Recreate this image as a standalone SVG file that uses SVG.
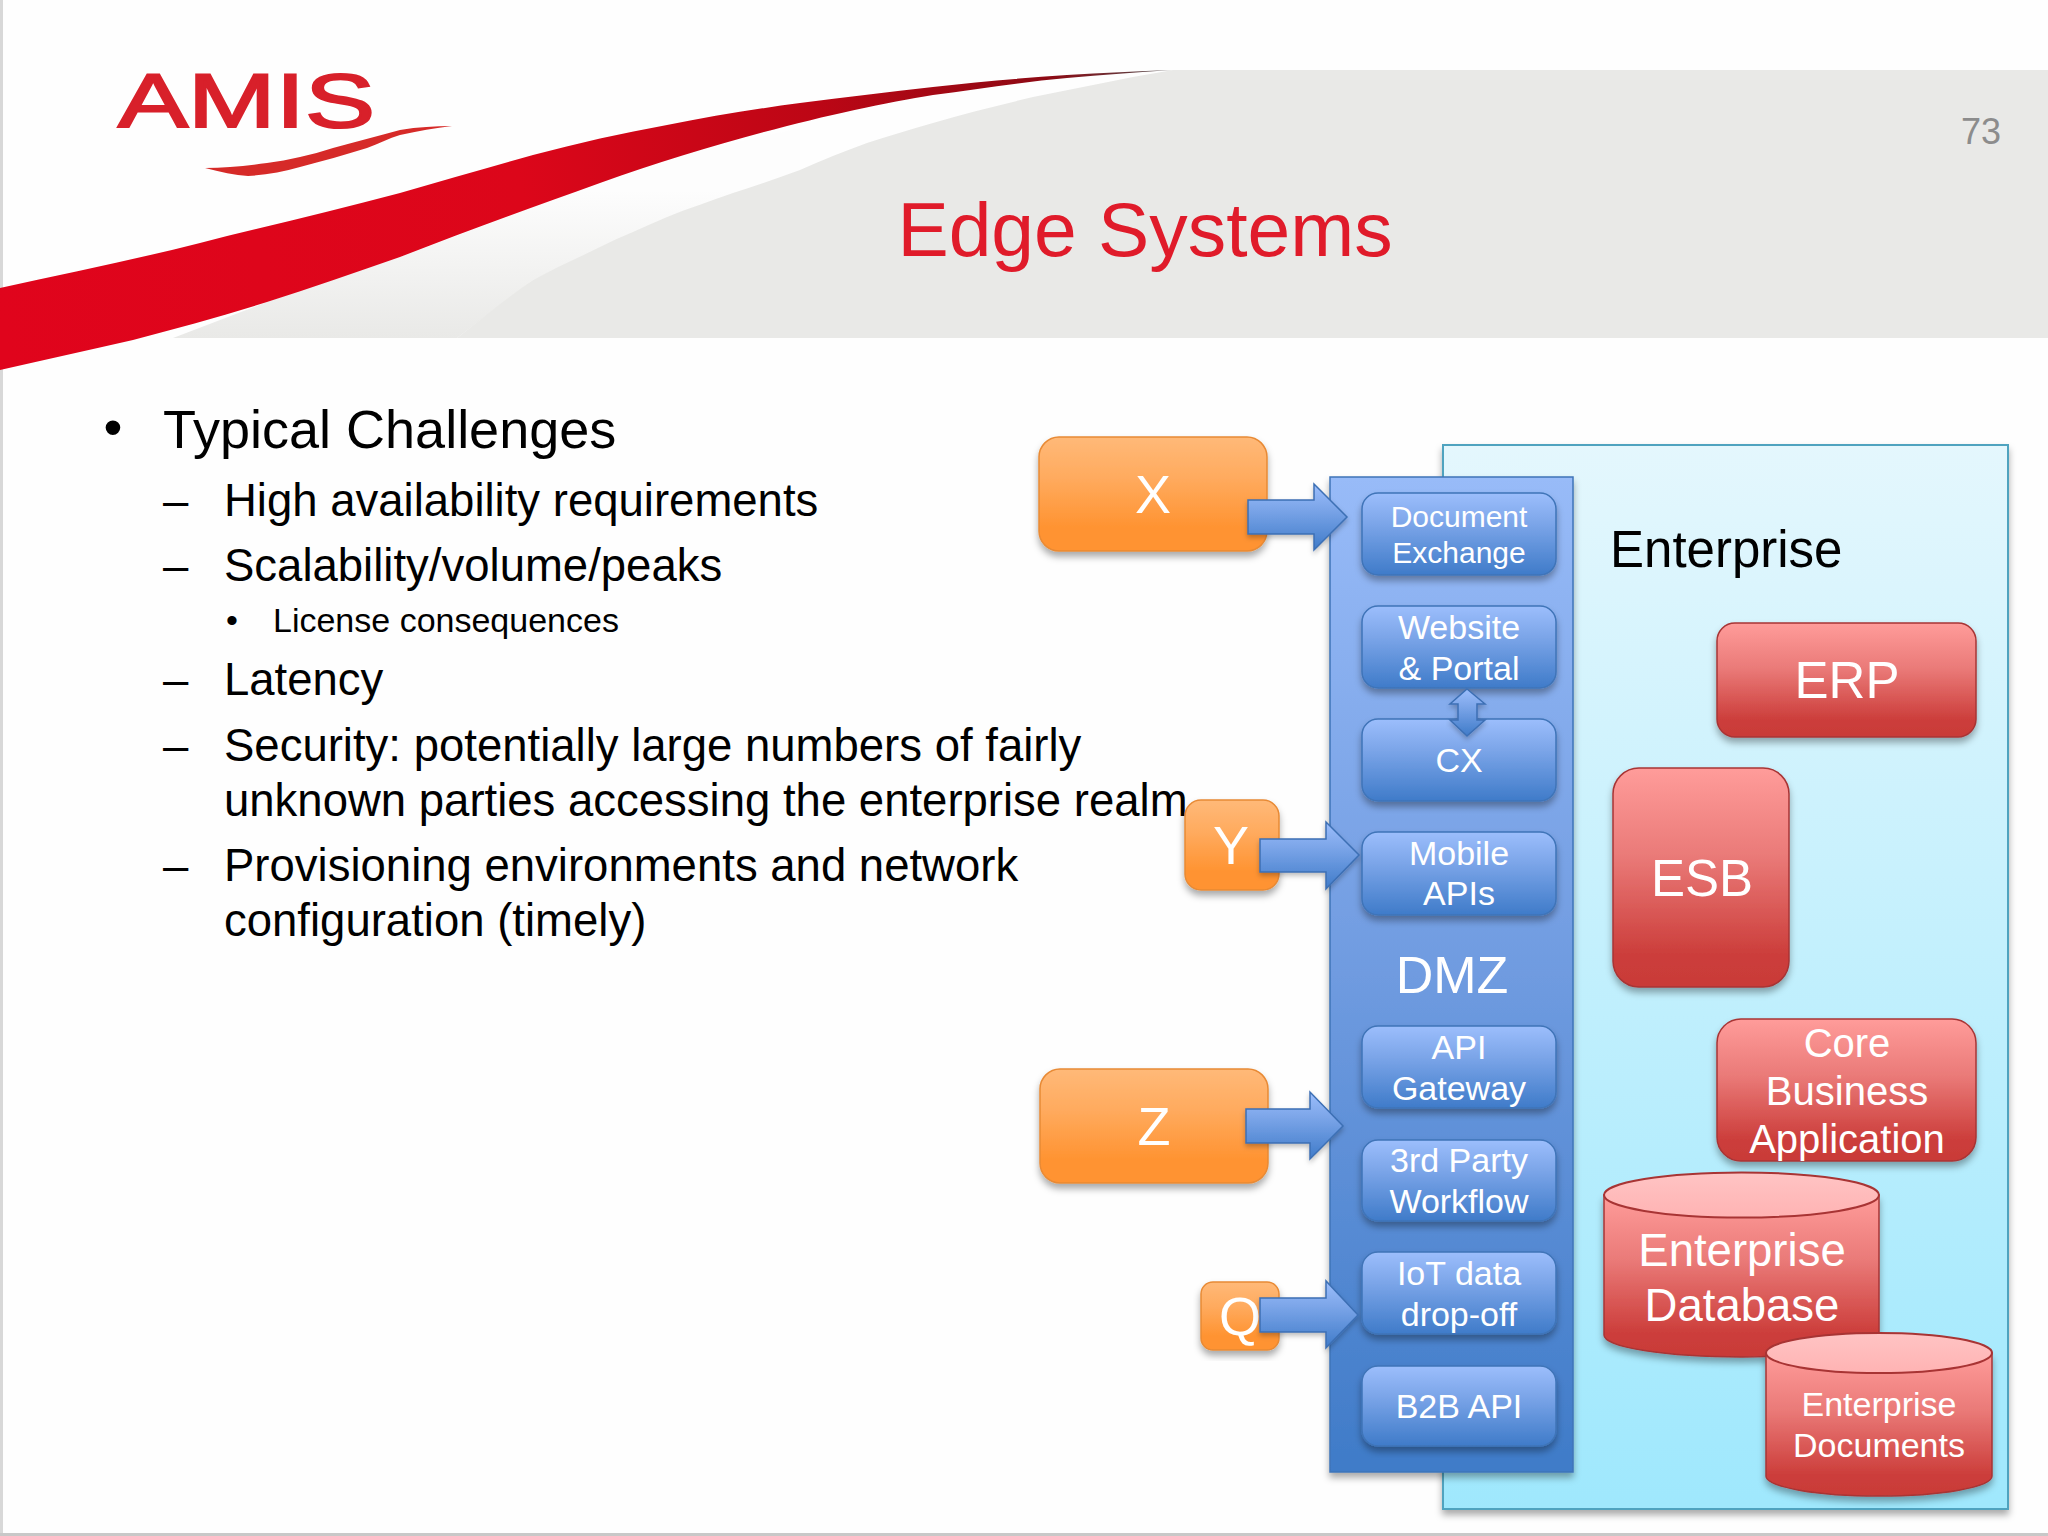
<svg xmlns="http://www.w3.org/2000/svg" width="2048" height="1536" viewBox="0 0 2048 1536">
<style>
text{font-family:"Liberation Sans",Arial,sans-serif}
.k{fill:#000}
.w{fill:#fff;text-anchor:middle}
.s{fill:url(#gBlue);stroke:#3f74b8;stroke-width:1.5;filter:url(#sh)}
.o{fill:url(#gOrange);stroke:#e88a35;stroke-width:1.5;filter:url(#sh)}
.r{fill:url(#gRed);stroke:#a83434;stroke-width:1.5;filter:url(#sh)}
.t{fill:url(#gTop);stroke:#a83434;stroke-width:2}
.a{fill:url(#gBlue);stroke:#3c6fb4;stroke-width:1.5;filter:url(#shA)}
.f30{font-size:30px}.f34{font-size:34px}.f54{font-size:54px}
.m{font-size:45.500px}
</style>
<defs>
<linearGradient id="gBlue" x1="0" y1="0" x2="0" y2="1"><stop offset="0" stop-color="#9cbefc"/><stop offset=".35" stop-color="#7ea7ea"/><stop offset="1" stop-color="#3f7bc9"/></linearGradient>
<linearGradient id="gDmz" x1="0" y1="0" x2="0" y2="1"><stop offset="0" stop-color="#98bbf8"/><stop offset=".5" stop-color="#6f9be0"/><stop offset="1" stop-color="#3f7bc8"/></linearGradient>
<linearGradient id="gOrange" x1="0" y1="0" x2="0" y2="1"><stop offset="0" stop-color="#ffb978"/><stop offset=".35" stop-color="#ffab5f"/><stop offset=".8" stop-color="#ff9331"/><stop offset="1" stop-color="#ff9330"/></linearGradient>
<linearGradient id="gRed" x1="0" y1="0" x2="0" y2="1"><stop offset="0" stop-color="#ff9c9a"/><stop offset=".4" stop-color="#ea7a78"/><stop offset=".85" stop-color="#cc3e3b"/><stop offset="1" stop-color="#c93a38"/></linearGradient>
<linearGradient id="gTop" x1="0" y1="0" x2="0" y2="1"><stop offset="0" stop-color="#ffc4c4"/><stop offset="1" stop-color="#ffb3b3"/></linearGradient>
<linearGradient id="gEnt" x1="0" y1="0" x2="0" y2="1"><stop offset="0" stop-color="#e4f7fd"/><stop offset="1" stop-color="#9fe8fd"/></linearGradient>
<linearGradient id="gSw" gradientUnits="userSpaceOnUse" x1="0" y1="330" x2="1172" y2="70"><stop offset="0" stop-color="#e0041c"/><stop offset=".45" stop-color="#dc061a"/><stop offset=".7" stop-color="#bd0615"/><stop offset=".9" stop-color="#8c0a14"/><stop offset="1" stop-color="#505050"/></linearGradient>
<linearGradient id="gFade" gradientUnits="userSpaceOnUse" x1="0" y1="338" x2="0" y2="190"><stop offset="0" stop-color="#e9e9e7"/><stop offset="1" stop-color="#fdfdfd"/></linearGradient>
<filter id="sh" x="-10%" y="-10%" width="120%" height="125%"><feDropShadow dx="0" dy="5" stdDeviation="3.500" flood-color="#000" flood-opacity=".33"/></filter>
<filter id="shA" x="-10%" y="-10%" width="120%" height="125%"><feDropShadow dx="0" dy="3" stdDeviation="2.500" flood-color="#000" flood-opacity=".25"/></filter>
</defs>
<rect width="2048" height="1536" fill="#fefefe"/>
<rect x="0" y="0" width="3" height="1536" fill="#d8d8d8"/>
<rect x="0" y="1533" width="2048" height="3" fill="#c8c8c8"/>

<g id="header">
<path d="M173 338L267 302L400 257L533 207L667 158L800 128L800 170L667 217L533 280L457 338Z" fill="url(#gFade)"/>
<path d="M1173 70H2048V338H457C483 318 508 297 533 280C555 268 578 258 600 247C622 236 645 227 667 217C689 208 711 201 733 193C755 186 778 178 800 170C822 160 845 151 867 143C889 136 911 129 933 123C966 113 1000 105 1033 97C1066 90 1100 84 1133 77C1146 75 1160 72 1173 70Z" fill="#e9e9e7"/>
<path id="swoosh" d="M0 288C67 273 133 260 200 243C267 226 333 211 400 193C445 180 490 167 533 155C578 143 622 133 667 125C712 116 755 109 800 103C845 97 889 92 933 87C978 82 1022 78 1067 75C1102 73 1137 71 1172 70C1137 72 1102 75 1067 78C1022 82 978 89 933 95C850 108 720 140 600 183C530 208 465 232 400 257C356 272 311 288 267 302C222 316 178 328 133 340C89 350 44 360 0 370Z" fill="url(#gSw)"/>
<text x="118" y="127" font-size="76" textLength="257" lengthAdjust="spacingAndGlyphs" fill="#d8202a" stroke="#d8202a" stroke-width="2">AMIS</text>
<path d="M452 126C435 126 418 127 400 130C378 136 355 142 333 148C311 155 289 160 267 163C245 166 225 168 205 168C220 172 235 175 248 176C265 175 283 172 300 167C322 161 345 155 367 148C378 144 389 138 400 135C418 131 435 128 452 126Z" fill="#d62a28"/>
<text x="1981" y="144" font-size="36" fill="#8c8c8c" text-anchor="middle">73</text>
<text x="1145" y="256" font-size="76.800" fill="#e01b2a" text-anchor="middle">Edge Systems</text>
</g>

<g id="bullets">
<text x="113" y="446" class="f54 k" text-anchor="middle">•</text>
<text x="163" y="448" class="f54 k">Typical Challenges</text>
<text x="163" y="516" class="m k">–</text><text x="224" y="516" class="m k">High availability requirements</text>
<text x="163" y="581" class="m k">–</text><text x="224" y="581" class="m k">Scalability/volume/peaks</text>
<text x="226" y="632" font-size="34" class="k">•</text><text x="273" y="632" font-size="34" class="k">License consequences</text>
<text x="163" y="695" class="m k">–</text><text x="224" y="695" class="m k">Latency</text>
<text x="163" y="761" class="m k">–</text><text x="224" y="761" class="m k">Security: potentially large numbers of fairly</text>
<text x="224" y="816" class="m k">unknown parties accessing the enterprise realm</text>
<text x="163" y="881" class="m k">–</text><text x="224" y="881" class="m k">Provisioning environments and network</text>
<text x="224" y="936" class="m k">configuration (timely)</text>
</g>

<g id="enterprise">
<rect x="1443" y="445" width="565" height="1064" fill="url(#gEnt)" stroke="#4fa3bf" stroke-width="2" filter="url(#sh)"/>
<text x="1610" y="567" font-size="51" class="k">Enterprise</text>
</g>
<g id="dmz">
<rect x="1330" y="477" width="243" height="995" fill="url(#gDmz)" stroke="#3f74b8" stroke-width="1.500" filter="url(#sh)"/>
<text x="1452" y="993" font-size="52" class="w">DMZ</text>
</g>

<g id="document-exchange"><rect class="s" x="1362" y="493" width="194" height="82" rx="16"/><text x="1459" y="527" class="f30 w">Document</text><text x="1459" y="563" class="f30 w">Exchange</text></g>
<g id="website-portal"><rect class="s" x="1362" y="606" width="194" height="82" rx="16"/><text x="1459" y="639" class="f34 w">Website</text><text x="1459" y="680" class="f34 w">&amp; Portal</text></g>
<g id="cx"><rect class="s" x="1362" y="719" width="194" height="82" rx="16"/><text x="1459" y="772" class="f34 w">CX</text></g>
<g id="mobile-apis"><rect class="s" x="1362" y="832" width="194" height="83" rx="16"/><text x="1459" y="865" class="f34 w">Mobile</text><text x="1459" y="905" class="f34 w">APIs</text></g>
<g id="api-gateway"><rect class="s" x="1362" y="1026" width="194" height="82" rx="16"/><text x="1459" y="1059" class="f34 w">API</text><text x="1459" y="1100" class="f34 w">Gateway</text></g>
<g id="third-party"><rect class="s" x="1362" y="1140" width="194" height="81" rx="16"/><text x="1459" y="1172" class="f34 w">3rd Party</text><text x="1459" y="1213" class="f34 w">Workflow</text></g>
<g id="iot"><rect class="s" x="1362" y="1252" width="194" height="82" rx="16"/><text x="1459" y="1285" class="f34 w">IoT data</text><text x="1459" y="1326" class="f34 w">drop-off</text></g>
<g id="b2b"><rect class="s" x="1362" y="1366" width="194" height="80" rx="16"/><text x="1459" y="1418" class="f34 w">B2B API</text></g>

<g id="x"><rect class="o" x="1039" y="437" width="228" height="114" rx="20"/><text x="1153" y="513" class="f54 w">X</text></g>
<g id="y"><rect class="o" x="1185" y="800" width="94" height="90" rx="16"/><text x="1231" y="864" class="f54 w">Y</text></g>
<g id="z"><rect class="o" x="1040" y="1069" width="228" height="114" rx="20"/><text x="1154" y="1145" class="f54 w">Z</text></g>
<g id="q"><rect class="o" x="1201" y="1282" width="78" height="68" rx="12"/><text x="1240" y="1335" class="f54 w">Q</text></g>

<g id="erp"><rect class="r" x="1717" y="623" width="259" height="114" rx="18"/><text x="1847" y="698" font-size="51" class="w">ERP</text></g>
<g id="esb"><rect class="r" x="1613" y="768" width="176" height="219" rx="26"/><text x="1702" y="896" font-size="51" class="w">ESB</text></g>
<g id="core"><rect class="r" x="1717" y="1019" width="259" height="142" rx="24"/><text x="1847" y="1057" font-size="40" class="w">Core</text><text x="1847" y="1105" font-size="40" class="w">Business</text><text x="1847" y="1153" font-size="40" class="w">Application</text></g>
<g id="enterprise-database">
<path class="r" d="M1604 1195V1335A137.500 22 0 0 0 1879 1335V1195Z"/>
<ellipse class="t" cx="1741.500" cy="1195" rx="137.500" ry="22.500"/>
<text x="1742" y="1266" font-size="45.500" class="w">Enterprise</text><text x="1742" y="1321" font-size="45.500" class="w">Database</text>
</g>
<g id="enterprise-documents">
<path class="r" d="M1766 1353V1476A113 20 0 0 0 1992 1476V1353Z"/>
<ellipse class="t" cx="1879" cy="1353" rx="113" ry="20"/>
<text x="1879" y="1416" class="f34 w">Enterprise</text><text x="1879" y="1457" class="f34 w">Documents</text>
</g>

<g id="connectors">
<path class="a" d="M1248 500H1314V484L1347 517L1314 550V534H1248Z"/>
<path class="a" d="M1260 839H1326V822L1359 855L1326 889V872H1260Z"/>
<path class="a" d="M1246 1109H1310V1092L1343 1126L1310 1159V1143H1246Z"/>
<path class="a" d="M1260 1298H1326V1281L1358 1315L1326 1348V1332H1260Z"/>
<path class="a" d="M1467 689L1485 704H1477V720H1485L1467 736L1450 720H1458V704H1450Z"/>
</g>
</svg>
